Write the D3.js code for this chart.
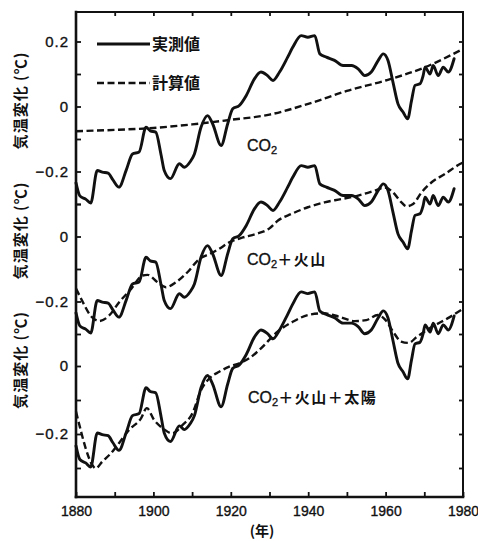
<!DOCTYPE html>
<html>
<head>
<meta charset="utf-8">
<script src="https://cdn.jsdelivr.net/npm/d3@7"></script>
<style>
  html, body { margin: 0; padding: 0; background: #fff; }
  svg { display: block; }
</style>
</head>
<body>
<svg id="chart" width="478" height="541"></svg>
<script>
// Observed temperature anomaly (°C); the same record is drawn in all three panels
const obsYears = [1880, 1881, 1882.5, 1883.8, 1885.5, 1886.8, 1888.3, 1889.5, 1891.1, 1893,
  1894.6, 1896.3, 1898.1, 1899.2, 1900.6, 1902, 1902.8, 1904.4, 1906.7, 1908,
  1909.5, 1910.6, 1912.3, 1914, 1915.3, 1917.5, 1919.2, 1920.5, 1922.2, 1924,
  1926.1, 1927.8, 1929.5, 1930.9, 1932.6, 1934.7, 1936, 1938.2, 1939.9, 1941.7,
  1943, 1944.7, 1946.8, 1949, 1951.2, 1952.9, 1954.6, 1956.3, 1958.1, 1959.4,
  1960.6, 1961.9, 1963.2, 1964.5, 1965.7, 1966.7, 1967.6, 1968.9, 1969.7, 1970.2,
  1971.5, 1972.3, 1973.6, 1974.9, 1976.2, 1977.7];
const obsValues = [-0.235, -0.275, -0.285, -0.297, -0.197, -0.202, -0.205, -0.225, -0.248, -0.195,
  -0.146, -0.140, -0.064, -0.075, -0.079, -0.150, -0.197, -0.222, -0.176, -0.187,
  -0.170, -0.146, -0.064, -0.028, -0.053, -0.120, -0.053, -0.007, 0.003, 0.034,
  0.085, 0.106, 0.095, 0.080, 0.106, 0.152, 0.182, 0.218, 0.213, 0.218,
  0.162, 0.152, 0.142, 0.126, 0.126, 0.116, 0.095, 0.106, 0.142, 0.162,
  0.142, 0.075, 0.008, -0.017, -0.038, 0.018, 0.065, 0.070, 0.095, 0.121,
  0.100, 0.126, 0.095, 0.121, 0.106, 0.147];

// Model: CO2 only
const co2Years = [1880, 1890, 1900, 1910, 1920, 1930, 1940, 1950, 1960, 1970, 1980];
const co2Values = [-0.076, -0.072, -0.066, -0.055, -0.041, -0.025, 0.008, 0.048, 0.080, 0.120, 0.177];

// Model: CO2 + volcanic dust
const volYears = [1880, 1881.6, 1883.8, 1886, 1888.5, 1891.1, 1894.2, 1897.2, 1898.5, 1901.1,
  1903.2, 1905.8, 1908.8, 1911.9, 1914.5, 1917, 1919.6, 1923.1, 1926.6, 1930,
  1932.2, 1935.6, 1939.9, 1944.2, 1948.5, 1952.9, 1957.2, 1959.8, 1961.9, 1964.1,
  1965.4, 1967.1, 1969.3, 1971.9, 1975.3, 1979.2, 1980];
const volValues = [-0.160, -0.198, -0.244, -0.260, -0.244, -0.203, -0.162, -0.120, -0.118, -0.141,
  -0.156, -0.141, -0.110, -0.069, -0.054, -0.038, -0.018, -0.003, 0.008, 0.025,
  0.049, 0.069, 0.090, 0.105, 0.115, 0.126, 0.141, 0.151, 0.136, 0.105,
  0.093, 0.100, 0.136, 0.167, 0.192, 0.223, 0.228];

// Model: CO2 + volcanic dust + solar
const solYears = [1880, 1881.2, 1882.5, 1884.2, 1885.1, 1886.8, 1889, 1891.1, 1893.7, 1896.8,
  1898.3, 1900.2, 1902.4, 1904.9, 1907.5, 1910.1, 1912.3, 1914.5, 1917, 1919.6,
  1922.2, 1924.8, 1927.8, 1932, 1936, 1940, 1944, 1948, 1952, 1955,
  1958, 1960, 1962, 1964, 1966, 1968, 1972, 1976, 1980];
const solValues = [-0.134, -0.188, -0.242, -0.291, -0.301, -0.281, -0.257, -0.227, -0.188, -0.154,
  -0.124, -0.159, -0.183, -0.198, -0.174, -0.139, -0.071, -0.036, -0.017, -0.002,
  0.008, 0.023, 0.052, 0.100, 0.130, 0.150, 0.155, 0.145, 0.132, 0.135,
  0.150, 0.135, 0.100, 0.072, 0.068, 0.085, 0.115, 0.140, 0.168];

const panelLabels = ["CO₂", "CO₂＋火山", "CO₂＋火山＋太陽"];
const yearTicks = [1880, 1900, 1920, 1940, 1960, 1980];
const topTickLabels = [0.2, 0, -0.2];
const midTickLabels = [0, -0.2];
const lowTickLabels = [0, -0.2];
const yAxisTitle = "気温変化 (℃)";
const xAxisTitle = "(年)";
const legendLabels = ["実測値", "計算値"];

// ---------------------------------------------------------------
const INK = "#111";
const LATIN = "'Liberation Sans', Arial, 'Noto Sans CJK JP', sans-serif";
const CJK = "'Noto Sans CJK JP', 'Noto Sans CJK SC', sans-serif";
const DASH = "7,3.5";

const svg = d3.select("#chart");
const frame = { left: 76, right: 463, top: 12, bottom: 497 };

const x = d3.scaleLinear().domain([1880, 1980]).range([frame.left, frame.right]);

const zip = (xs, ys) => xs.map((v, i) => [v, ys[i]]);
const observed = zip(obsYears, obsValues);

const panels = [
  { zero: 106.5, unit: 325, calc: zip(co2Years, co2Values), label: panelLabels[0],
    labelAt: [247, 151], ticks: [0.2, 0.1, 0, -0.1, -0.2, -0.3], labelled: topTickLabels },
  { zero: 236.5, unit: 325, calc: zip(volYears, volValues), label: panelLabels[1],
    labelAt: [247, 265], ticks: [0.1, 0, -0.1, -0.2, -0.3], labelled: midTickLabels },
  { zero: 366, unit: 340, calc: zip(solYears, solValues), label: panelLabels[2],
    labelAt: [248, 403], ticks: [0, -0.1, -0.2, -0.3], labelled: lowTickLabels }
];
panels.forEach(p => {
  p.y = d3.scaleLinear().domain([0, 1]).range([p.zero, p.zero - p.unit]);
});

const fmt = v => (v === 0 ? "0" : d3.format(".1f")(v));

function styleAxis(g) {
  g.select(".domain").remove();
  g.selectAll(".tick line").attr("stroke", INK).attr("stroke-width", 1.8);
  g.selectAll(".tick text")
    .attr("fill", INK)
    .attr("stroke", INK)
    .attr("stroke-width", 0.35)
    .style("font-family", LATIN)
    .style("font-size", "14px");
}

// curves
panels.forEach(p => {
  const line = d3.line()
    .x(d => x(d[0]))
    .y(d => p.y(d[1]))
    .curve(d3.curveMonotoneX);

  svg.append("path")
    .datum(p.calc)
    .attr("d", line)
    .attr("fill", "none")
    .attr("stroke", INK)
    .attr("stroke-width", 2.4)
    .attr("stroke-dasharray", DASH);

  svg.append("path")
    .datum(observed)
    .attr("d", line)
    .attr("fill", "none")
    .attr("stroke", INK)
    .attr("stroke-width", 2.9)
    .attr("stroke-linejoin", "round")
    .attr("stroke-linecap", "round");

  // left axis ticks + labels
  const gl = svg.append("g")
    .attr("transform", `translate(${frame.left},0)`)
    .call(d3.axisLeft(p.y)
      .tickValues(p.ticks)
      .tickSizeInner(-5)
      .tickSizeOuter(0)
      .tickPadding(7)
      .tickFormat(v => (p.labelled.includes(v) ? fmt(v) : "")));
  styleAxis(gl);
  gl.selectAll(".tick text").style("font-size", "15px").attr("letter-spacing", 1);

  // right axis ticks
  const gr = svg.append("g")
    .attr("transform", `translate(${frame.right},0)`)
    .call(d3.axisRight(p.y)
      .tickValues(p.ticks)
      .tickSizeInner(-4)
      .tickSizeOuter(0)
      .tickFormat(""));
  styleAxis(gr);

  // y title
  svg.append("text")
    .attr("transform", `translate(21,${p.zero - 6}) rotate(-90)`)
    .attr("text-anchor", "middle")
    .attr("dy", "0.35em")
    .attr("fill", INK)
    .style("font-family", CJK)
    .style("font-weight", 700)
    .style("font-size", "15px")
    .attr("letter-spacing", 1)
    .text(yAxisTitle);

  // panel label, with a subscript for the 2 in CO2
  const t = svg.append("text")
    .attr("x", p.labelAt[0])
    .attr("y", p.labelAt[1])
    .attr("fill", INK)
    .attr("stroke", INK)
    .attr("stroke-width", 0.35)
    .style("font-family", LATIN)
    .style("font-size", "16px");
  const parts = p.label.split("₂");
  t.append("tspan").text(parts[0]);
  t.append("tspan").attr("dy", 3).style("font-size", "11px").text("2");
  if (parts[1]) {
    t.append("tspan").attr("dy", -3)
      .attr("stroke-width", 0)
      .style("font-family", CJK)
      .style("font-weight", 700)
      .style("font-size", "15px")
      .attr("letter-spacing", 1.5)
      .text(parts[1]);
  }
});

// bottom axis
const gb = svg.append("g")
  .attr("transform", `translate(0,${frame.bottom})`)
  .call(d3.axisBottom(x)
    .tickValues(d3.range(1880, 1981, 10))
    .tickSizeInner(-5)
    .tickSizeOuter(0)
    .tickPadding(9)
    .tickFormat(d => (yearTicks.includes(d) ? String(d) : "")));
styleAxis(gb);

// top axis ticks
const gt = svg.append("g")
  .attr("transform", `translate(0,${frame.top})`)
  .call(d3.axisTop(x)
    .tickValues(d3.range(1890, 1980, 10))
    .tickSizeInner(-4)
    .tickSizeOuter(0)
    .tickFormat(""));
styleAxis(gt);

// frame
const edges = [
  [frame.left, frame.top, frame.right, frame.top, 2],
  [frame.right, frame.top, frame.right, frame.bottom, 2],
  [frame.left, frame.bottom, frame.right, frame.bottom, 2.6],
  [frame.left, frame.top, frame.left, frame.bottom, 2.6]
];
svg.append("g").selectAll("line").data(edges).join("line")
  .attr("x1", d => d[0]).attr("y1", d => d[1])
  .attr("x2", d => d[2]).attr("y2", d => d[3])
  .attr("stroke", INK)
  .attr("stroke-width", d => d[4])
  .attr("stroke-linecap", "square");

// x title
svg.append("text")
  .attr("x", 262)
  .attr("y", 531)
  .attr("dy", "0.35em")
  .attr("text-anchor", "middle")
  .attr("fill", INK)
  .style("font-family", CJK)
  .style("font-weight", 700)
  .style("font-size", "14px")
  .text(xAxisTitle);

// legend
const legend = svg.append("g");
[0, 1].forEach(i => {
  const ly = i === 0 ? 44 : 83;
  legend.append("line")
    .attr("x1", 97).attr("x2", 150)
    .attr("y1", ly).attr("y2", ly)
    .attr("stroke", INK)
    .attr("stroke-width", i === 0 ? 3 : 2.4)
    .attr("stroke-dasharray", i === 0 ? null : DASH);
  legend.append("text")
    .attr("x", 152)
    .attr("y", ly)
    .attr("dy", "0.36em")
    .attr("fill", INK)
    .style("font-family", CJK)
    .style("font-weight", 700)
    .style("font-size", "16px")
    .text(legendLabels[i]);
});
</script>
</body>
</html>
